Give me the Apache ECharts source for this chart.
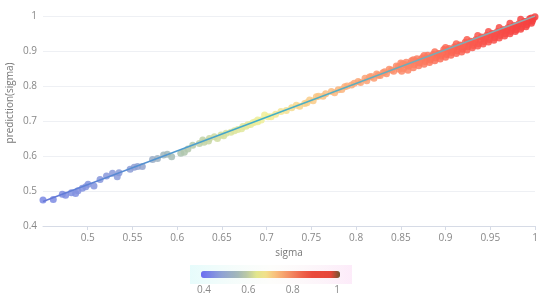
<!DOCTYPE html>
<html>
<head>
<meta charset="utf-8">
<script src="https://cdn.jsdelivr.net/npm/echarts@6/dist/echarts.min.js"></script>
<style>
html,body{margin:0;padding:0;background:#fff;}
#main{width:550px;height:299px;}
</style>
</head>
<body>
<div id="main"></div>
<script>
// scatter: sigma vs prediction(sigma)
var sigmaVals = [
  0.450,0.4615,0.4716,0.4753,0.4817,0.4865,0.4891,0.494,0.4978,0.5004,0.507,0.5138,0.521,0.5277,0.535,0.533,
  0.5474,0.552,0.5557,0.561,0.5725,0.578,0.5848,0.589,0.5938,0.604,0.6174,0.6248,
  0.608,0.612,0.6286,0.630,0.635,0.636,0.6416,0.645,0.649,0.652,0.6547,0.660,0.664,0.6678,0.672,0.6734,0.677,0.679,0.682,0.6846,0.687,0.690,0.694,
  0.6977,0.690,0.7015,0.705,0.710,0.716,0.722,0.728,0.7332,0.737,0.7425,0.745,0.748,0.752,0.7556,0.758,0.763,0.766,0.7724,0.776,0.780,0.784,0.7873,0.790,0.795,0.798,0.8023,0.805,
  0.810,0.812,0.815,0.817,0.820,0.823,0.8248,0.827,0.830,0.832,0.834,0.837,0.8397,0.842,0.845,0.847,0.848,
  0.850,0.853,0.856,0.859,0.862,0.865,0.868,0.871,0.874,0.877,0.880,0.883,0.886,0.889,0.892,0.895,0.898,0.901,0.904,0.907,0.910,0.913,0.916,0.919,0.922,0.925,0.928,0.931,0.934,0.937,0.940,0.943,0.946,0.949,0.952,0.955,0.958,0.961,0.964,0.967,0.970,0.973,0.976,0.979,0.982,0.985,0.988,0.991,0.994,0.997,1.000,0.999,0.996,
  0.851,0.855,0.858,0.861,0.864,0.867,0.870,0.873,0.876,0.879,0.882,0.885,0.888,0.891,0.894,0.897,0.900,0.903,0.906,0.909,0.912,0.915,0.918,0.921,0.924,0.927,0.930,0.933,0.936,0.939,0.942,0.945,0.948,0.951,0.954,0.957,0.960,0.963,0.966,0.969,0.972,0.975,0.978,0.981,0.984,0.987,0.990,0.993,0.996,0.998,
  0.852,0.858,0.864,0.870,0.876,0.882,0.888,0.894,0.900,0.906,0.912,0.918,0.924,0.930,0.936,0.942,0.948,0.954,0.960,0.966,0.972,0.978,0.984,0.990,0.996,1.001
];
var predVals = [
  0.474,0.476,0.491,0.488,0.495,0.493,0.501,0.508,0.512,0.519,0.514,0.533,0.543,0.551,0.552,0.541,
  0.562,0.568,0.570,0.570,0.590,0.593,0.603,0.605,0.598,0.608,0.631,0.636,
  0.611,0.620,0.6457,0.639,0.643,0.650,0.655,0.650,0.660,0.658,0.665,0.668,0.672,0.676,0.678,0.684,0.685,0.689,0.690,0.695,0.697,0.698,0.703,
  0.717,0.703,0.712,0.712,0.719,0.727,0.730,0.738,0.745,0.742,0.750,0.752,0.760,0.758,0.769,0.771,0.771,0.778,0.784,0.781,0.789,0.790,0.798,0.800,0.803,0.808,0.813,0.810,
  0.822,0.815,0.826,0.827,0.822,0.834,0.831,0.830,0.838,0.841,0.835,0.848,0.846,0.842,0.857,0.855,0.848,
  0.866,0.850,0.868,0.857,0.872,0.861,0.878,0.866,0.881,0.870,0.888,0.874,0.890,0.880,0.893,0.885,0.904,0.890,0.907,0.896,0.912,0.900,0.917,0.905,0.925,0.912,0.928,0.916,0.933,0.921,0.940,0.927,0.945,0.933,0.950,0.938,0.956,0.944,0.961,0.949,0.967,0.956,0.972,0.961,0.978,0.968,0.984,0.975,0.992,0.985,0.998,1.004,0.994,
  0.842,0.861,0.845,0.864,0.852,0.871,0.858,0.876,0.862,0.880,0.867,0.884,0.872,0.889,0.877,0.895,0.882,0.899,0.888,0.905,0.893,0.911,0.897,0.913,0.903,0.921,0.909,0.926,0.914,0.932,0.920,0.938,0.926,0.944,0.931,0.949,0.937,0.955,0.943,0.960,0.949,0.966,0.956,0.972,0.962,0.979,0.969,0.986,0.979,0.992,
  0.863,0.857,0.875,0.869,0.887,0.880,0.898,0.892,0.910,0.903,0.921,0.915,0.933,0.926,0.944,0.938,0.956,0.949,0.967,0.961,0.979,0.972,0.991,0.984,1.001,1.004
];
// fitted line ends
var lineX = [0.45, 1.0];
var lineY = [0.47, 1.0];
// colour bar labels and range
var barTicks = [0.4, 0.6, 0.8, 1];
var barMin = 0.386, barMax = 1.014;

var points = [];
for(var i=0;i<sigmaVals.length;i++){
	points.push([sigmaVals[i], predVals[i]]);
}
var linePts = [];
for(var j=0;j<lineX.length;j++){
	linePts.push([lineX[j], lineY[j]]);
}

var chart = echarts.init(document.getElementById('main'));
var option = {
	backgroundColor: '#fff',
	animation: false,
	textStyle: { fontFamily: '"Open Sans", Lato, sans-serif' },
	grid: [
		{ left: 43, right: 15, top: 16, bottom: 73, outerBoundsMode: 'none', containLabel: false },
		{ left: 204, width: 133, top: 271, height: 7, outerBoundsMode: 'none', containLabel: false }
	],
	xAxis: [
		{
			type: 'value', min: 0.45, max: 1, interval: 0.05,
			name: 'sigma', nameLocation: 'middle', nameGap: 22,
			nameTextStyle: { color: '#777', fontSize: 10 },
			axisLine: { lineStyle: { color: '#d6dbe6' } },
			axisTick: { show: true, length: 4, lineStyle: { color: '#d6dbe6' } },
			axisLabel: { color: '#888', fontSize: 10, margin: 7, showMinLabel: false },
			splitLine: { show: false }
		},
		{
			type: 'value', gridIndex: 1, min: barTicks[0], max: barTicks[barTicks.length-1], interval: 0.2,
			axisLine: { show: false }, axisTick: { show: false }, splitLine: { show: false },
			axisLabel: { color: '#888', fontSize: 10, margin: 7 }
		}
	],
	yAxis: [
		{
			type: 'value', min: 0.4, max: 1, interval: 0.1,
			name: 'prediction(sigma)', nameLocation: 'middle', nameGap: 28,
			nameMoveOverlap: false,
			nameTextStyle: { color: '#777', fontSize: 10, padding: [0, 0, 0, 36] },
			axisLine: { show: false }, axisTick: { show: false },
			axisLabel: { color: '#888', fontSize: 10, margin: 6 },
			splitLine: { lineStyle: { color: '#eef0f4' } }
		},
		{ type: 'value', gridIndex: 1, show: false }
	],
	graphic: [{
		type: 'rect', left: 190, top: 265, z: -1,
		shape: { width: 162, height: 19 },
		style: {
			fill: new echarts.graphic.LinearGradient(0, 0, 1, 0, [
				{ offset: 0, color: 'rgba(220,250,250,0.7)' },
				{ offset: 0.5, color: 'rgba(250,250,245,0.4)' },
				{ offset: 1, color: 'rgba(252,230,248,0.8)' }
			])
		}
	}],
	visualMap: [
		{
			// shown colour bar
			type: 'continuous',
			seriesIndex: 2,
			min: barMin, max: barMax,
			orient: 'horizontal',
			left: 201, top: 271,
			padding: 0,
			itemWidth: 7, itemHeight: 139,
			calculable: false,
			showLabel: false,
			text: null,
			inRange: {
				color: ['#6a6cf2','#7a86e6','#8c9ed8','#98acc8','#a4b8b8','#bccaa4','#e2e68c','#f2e08a','#f8c07c','#f6a06c','#f2805c','#ee6048','#ea4a3c','#e8483a','#e6463a','#6e5432']
			}
		},
		{
			// colours of the points
			type: 'continuous',
			show: false,
			seriesIndex: 0,
			dimension: 0,
			min: 0.4, max: 1.0,
			inRange: {
				color: ['#6a70f0','#7a88e4','#8494de','#8e9ed6','#a8c0b0','#d4e0a0','#f2f098','#f9cc88','#fba878','#fc8a68','#fb6a56','#f8504a','#f54040']
			}
		}
	],
	series: [
		{
			type: 'scatter',
			symbolSize: 7,
			data: points,
			itemStyle: { opacity: 0.85 },
			z: 2
		},
		{
			type: 'line',
			data: linePts,
			symbol: 'none',
			lineStyle: {
				width: 1.5,
				color: new echarts.graphic.LinearGradient(0, 0, 1, 0, [
					{ offset: 0, color: '#6676d8' },
					{ offset: 0.45, color: '#3fb0c8' },
					{ offset: 1, color: '#9aa8ac' }
				])
			},
			z: 3
		},
		{
			type: 'scatter',
			data: [],
			silent: true
		}
	]
};
chart.setOption(option);
</script>
</body>
</html>
